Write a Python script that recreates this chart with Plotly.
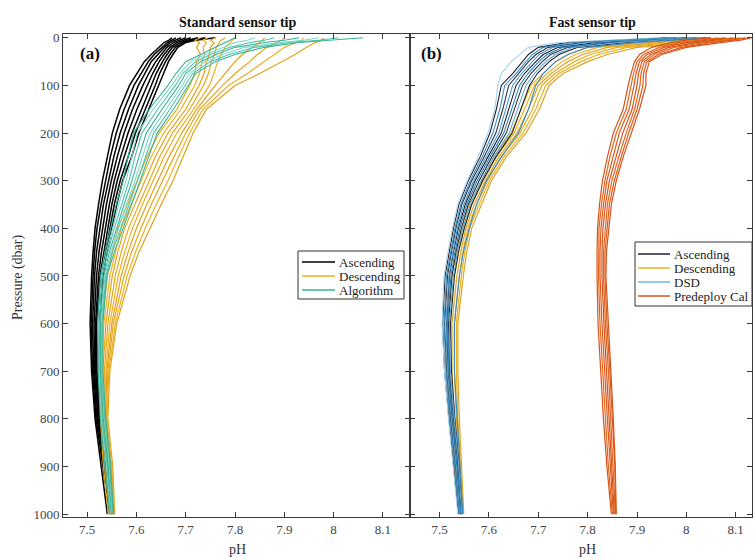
import plotly.graph_objects as go

# Pressure levels (dbar) shared by every profile
pressure = [0, 5, 10, 20, 35, 50, 75, 100, 150, 200, 250, 300, 350, 400, 450,
            500, 600, 700, 800, 900, 1000]

# ---- Standard sensor tip: pH profiles ----
std_ascending = [
    [7.672, 7.666, 7.656, 7.645, 7.630, 7.616, 7.601, 7.586, 7.566, 7.551, 7.541, 7.531, 7.523, 7.516, 7.512, 7.509, 7.506, 7.509, 7.516, 7.529, 7.541],
    [7.680, 7.672, 7.663, 7.652, 7.636, 7.624, 7.609, 7.595, 7.575, 7.559, 7.547, 7.537, 7.528, 7.520, 7.515, 7.512, 7.508, 7.511, 7.518, 7.532, 7.546],
    [7.690, 7.680, 7.668, 7.657, 7.643, 7.630, 7.617, 7.604, 7.584, 7.567, 7.554, 7.543, 7.533, 7.526, 7.519, 7.515, 7.511, 7.513, 7.520, 7.535, 7.548],
    [7.700, 7.688, 7.675, 7.662, 7.650, 7.639, 7.625, 7.613, 7.592, 7.575, 7.561, 7.549, 7.539, 7.531, 7.524, 7.519, 7.514, 7.515, 7.522, 7.537, 7.550],
    [7.710, 7.695, 7.682, 7.668, 7.656, 7.646, 7.633, 7.622, 7.601, 7.583, 7.568, 7.555, 7.545, 7.537, 7.529, 7.523, 7.517, 7.517, 7.524, 7.539, 7.551],
    [7.725, 7.703, 7.689, 7.673, 7.662, 7.653, 7.640, 7.630, 7.610, 7.591, 7.575, 7.561, 7.550, 7.542, 7.533, 7.526, 7.519, 7.519, 7.525, 7.541, 7.553],
    [7.740, 7.712, 7.695, 7.679, 7.668, 7.659, 7.647, 7.638, 7.618, 7.598, 7.583, 7.567, 7.555, 7.546, 7.537, 7.529, 7.521, 7.520, 7.527, 7.543, 7.554],
    [7.760, 7.720, 7.700, 7.684, 7.674, 7.665, 7.655, 7.645, 7.625, 7.605, 7.590, 7.572, 7.560, 7.550, 7.540, 7.532, 7.524, 7.522, 7.528, 7.545, 7.555],
]

std_descending = [
    [7.730, 7.718, 7.728, 7.722, 7.730, 7.722, 7.718, 7.708, 7.682, 7.646, 7.621, 7.601, 7.581, 7.562, 7.551, 7.541, 7.530, 7.526, 7.527, 7.533, 7.543],
    [7.745, 7.735, 7.742, 7.735, 7.738, 7.733, 7.728, 7.718, 7.690, 7.655, 7.630, 7.609, 7.589, 7.569, 7.557, 7.546, 7.534, 7.529, 7.529, 7.536, 7.546],
    [7.760, 7.750, 7.758, 7.750, 7.748, 7.742, 7.737, 7.727, 7.700, 7.664, 7.638, 7.617, 7.596, 7.576, 7.562, 7.551, 7.538, 7.532, 7.531, 7.539, 7.548],
    [7.780, 7.772, 7.768, 7.762, 7.758, 7.752, 7.746, 7.736, 7.708, 7.673, 7.647, 7.626, 7.604, 7.584, 7.569, 7.557, 7.542, 7.535, 7.533, 7.542, 7.550],
    [7.800, 7.795, 7.790, 7.780, 7.772, 7.765, 7.757, 7.748, 7.716, 7.682, 7.656, 7.634, 7.612, 7.592, 7.576, 7.563, 7.546, 7.538, 7.535, 7.544, 7.551],
    [7.860, 7.855, 7.850, 7.835, 7.815, 7.800, 7.780, 7.760, 7.722, 7.692, 7.666, 7.643, 7.621, 7.600, 7.583, 7.569, 7.550, 7.540, 7.537, 7.546, 7.552],
    [7.900, 7.895, 7.885, 7.865, 7.845, 7.830, 7.800, 7.775, 7.728, 7.700, 7.676, 7.653, 7.630, 7.609, 7.590, 7.575, 7.553, 7.542, 7.539, 7.548, 7.553],
    [7.940, 7.935, 7.925, 7.900, 7.880, 7.860, 7.825, 7.787, 7.735, 7.708, 7.685, 7.664, 7.640, 7.618, 7.598, 7.581, 7.557, 7.544, 7.540, 7.550, 7.555],
    [7.980, 7.975, 7.963, 7.945, 7.922, 7.895, 7.850, 7.800, 7.742, 7.715, 7.695, 7.674, 7.650, 7.627, 7.605, 7.587, 7.560, 7.546, 7.542, 7.552, 7.556],
]

std_algorithm = [
    [7.800, 7.790, 7.780, 7.760, 7.728, 7.700, 7.680, 7.664, 7.626, 7.594, 7.583, 7.573, 7.559, 7.547, 7.536, 7.527, 7.521, 7.522, 7.527, 7.536, 7.546],
    [7.840, 7.825, 7.800, 7.775, 7.740, 7.710, 7.688, 7.672, 7.634, 7.602, 7.590, 7.579, 7.564, 7.551, 7.539, 7.529, 7.523, 7.524, 7.529, 7.539, 7.548],
    [7.880, 7.860, 7.830, 7.790, 7.750, 7.720, 7.694, 7.679, 7.643, 7.611, 7.597, 7.585, 7.570, 7.555, 7.542, 7.531, 7.525, 7.526, 7.531, 7.541, 7.549],
    [7.930, 7.900, 7.860, 7.800, 7.762, 7.730, 7.700, 7.686, 7.652, 7.620, 7.605, 7.591, 7.575, 7.560, 7.545, 7.534, 7.527, 7.527, 7.533, 7.543, 7.550],
    [7.970, 7.940, 7.890, 7.820, 7.775, 7.740, 7.707, 7.693, 7.660, 7.628, 7.612, 7.597, 7.580, 7.564, 7.548, 7.536, 7.529, 7.529, 7.535, 7.545, 7.551],
    [8.010, 7.970, 7.910, 7.840, 7.788, 7.750, 7.714, 7.699, 7.668, 7.635, 7.619, 7.602, 7.585, 7.568, 7.551, 7.538, 7.530, 7.530, 7.536, 7.546, 7.552],
    [8.060, 8.000, 7.930, 7.860, 7.800, 7.760, 7.720, 7.705, 7.675, 7.642, 7.625, 7.607, 7.590, 7.573, 7.555, 7.540, 7.532, 7.532, 7.538, 7.548, 7.553],
]

# ---- Fast sensor tip: pH profiles ----
fast_ascending = [
    [7.960, 7.860, 7.760, 7.700, 7.680, 7.668, 7.648, 7.625, 7.615, 7.602, 7.582, 7.558, 7.539, 7.528, 7.519, 7.511, 7.506, 7.510, 7.519, 7.529, 7.538],
    [7.980, 7.890, 7.790, 7.720, 7.695, 7.680, 7.660, 7.640, 7.628, 7.614, 7.590, 7.565, 7.545, 7.533, 7.524, 7.516, 7.510, 7.514, 7.522, 7.532, 7.540],
    [8.000, 7.910, 7.820, 7.740, 7.710, 7.695, 7.672, 7.655, 7.640, 7.625, 7.598, 7.572, 7.552, 7.538, 7.528, 7.520, 7.514, 7.517, 7.525, 7.535, 7.542],
    [8.020, 7.940, 7.850, 7.760, 7.725, 7.708, 7.685, 7.668, 7.652, 7.635, 7.606, 7.580, 7.558, 7.544, 7.533, 7.525, 7.518, 7.520, 7.528, 7.537, 7.544],
    [8.040, 7.960, 7.880, 7.780, 7.742, 7.722, 7.698, 7.682, 7.665, 7.647, 7.614, 7.587, 7.565, 7.550, 7.538, 7.530, 7.522, 7.524, 7.531, 7.540, 7.546],
]

fast_descending = [
    [8.000, 7.950, 7.900, 7.800, 7.760, 7.735, 7.710, 7.685, 7.665, 7.645, 7.610, 7.585, 7.560, 7.545, 7.535, 7.525, 7.515, 7.515, 7.522, 7.530, 7.540],
    [8.030, 7.975, 7.925, 7.820, 7.775, 7.748, 7.718, 7.692, 7.672, 7.651, 7.615, 7.589, 7.565, 7.549, 7.539, 7.530, 7.520, 7.520, 7.526, 7.533, 7.542],
    [8.050, 8.000, 7.950, 7.840, 7.790, 7.760, 7.726, 7.700, 7.680, 7.657, 7.620, 7.593, 7.570, 7.553, 7.543, 7.535, 7.525, 7.525, 7.530, 7.537, 7.544],
    [8.080, 8.030, 7.970, 7.860, 7.805, 7.773, 7.734, 7.707, 7.688, 7.663, 7.625, 7.597, 7.575, 7.557, 7.547, 7.540, 7.530, 7.530, 7.534, 7.540, 7.546],
    [8.100, 8.055, 7.995, 7.880, 7.822, 7.786, 7.742, 7.715, 7.695, 7.669, 7.630, 7.601, 7.580, 7.561, 7.551, 7.544, 7.534, 7.534, 7.537, 7.543, 7.548],
    [8.120, 8.080, 8.020, 7.900, 7.840, 7.800, 7.750, 7.722, 7.702, 7.675, 7.635, 7.605, 7.585, 7.565, 7.555, 7.548, 7.537, 7.537, 7.540, 7.545, 7.549],
]

fast_dsd = [
    [7.950, 7.840, 7.740, 7.680, 7.662, 7.645, 7.625, 7.618, 7.612, 7.598, 7.578, 7.556, 7.537, 7.526, 7.517, 7.509, 7.505, 7.510, 7.518, 7.528, 7.537],
    [7.970, 7.870, 7.770, 7.710, 7.688, 7.675, 7.655, 7.632, 7.622, 7.608, 7.586, 7.562, 7.543, 7.531, 7.522, 7.514, 7.509, 7.513, 7.521, 7.531, 7.539],
    [7.990, 7.900, 7.800, 7.730, 7.702, 7.688, 7.666, 7.648, 7.634, 7.620, 7.594, 7.569, 7.549, 7.536, 7.527, 7.519, 7.513, 7.516, 7.524, 7.534, 7.541],
    [8.010, 7.925, 7.835, 7.750, 7.718, 7.701, 7.679, 7.662, 7.646, 7.630, 7.602, 7.576, 7.555, 7.541, 7.531, 7.523, 7.516, 7.519, 7.527, 7.536, 7.543],
    [8.030, 7.950, 7.865, 7.770, 7.735, 7.715, 7.692, 7.675, 7.658, 7.641, 7.610, 7.584, 7.562, 7.547, 7.536, 7.528, 7.520, 7.522, 7.530, 7.539, 7.545],
    [8.050, 7.980, 7.900, 7.800, 7.760, 7.735, 7.710, 7.695, 7.680, 7.660, 7.625, 7.595, 7.575, 7.560, 7.548, 7.540, 7.530, 7.530, 7.536, 7.542, 7.547],
]

fast_predeploy = [
    [8.050, 8.000, 7.970, 7.930, 7.905, 7.895, 7.888, 7.882, 7.872, 7.852, 7.840, 7.830, 7.824, 7.820, 7.819, 7.819, 7.821, 7.826, 7.832, 7.839, 7.848],
    [8.065, 8.020, 7.985, 7.945, 7.913, 7.900, 7.893, 7.888, 7.878, 7.858, 7.845, 7.835, 7.828, 7.823, 7.822, 7.822, 7.825, 7.830, 7.836, 7.842, 7.850],
    [8.080, 8.040, 8.000, 7.955, 7.920, 7.905, 7.898, 7.894, 7.884, 7.864, 7.851, 7.839, 7.832, 7.827, 7.825, 7.825, 7.829, 7.834, 7.840, 7.846, 7.852],
    [8.095, 8.060, 8.020, 7.965, 7.928, 7.910, 7.903, 7.900, 7.890, 7.871, 7.857, 7.844, 7.836, 7.831, 7.829, 7.829, 7.833, 7.838, 7.844, 7.849, 7.854],
    [8.110, 8.080, 8.035, 7.975, 7.935, 7.915, 7.908, 7.906, 7.895, 7.878, 7.863, 7.849, 7.840, 7.836, 7.832, 7.832, 7.836, 7.842, 7.847, 7.852, 7.856],
    [8.120, 8.095, 8.050, 7.990, 7.943, 7.920, 7.913, 7.912, 7.900, 7.883, 7.868, 7.854, 7.844, 7.840, 7.835, 7.835, 7.839, 7.845, 7.850, 7.855, 7.857],
    [8.130, 8.110, 8.070, 8.000, 7.950, 7.925, 7.918, 7.918, 7.905, 7.888, 7.872, 7.858, 7.848, 7.843, 7.838, 7.837, 7.842, 7.848, 7.852, 7.856, 7.858],
]

pressure_ticks = [0, 100, 200, 300, 400, 500, 600, 700, 800, 900, 1000]
ph_ticks = [7.5, 7.6, 7.7, 7.8, 7.9, 8.0, 8.1]
ph_tick_text = ["7.5", "7.6", "7.7", "7.8", "7.9", "8", "8.1"]

# Legend entries for each panel
legend_std_names = ["Ascending", "Descending", "Algorithm"]
legend_std_colors = ["#000000", "#EDB120", "#36B39A"]
legend_fast_names = ["Ascending", "Descending", "DSD", "Predeploy Cal"]
legend_fast_colors = ["#1C2230", "#EDB120", "#6FB8E2", "#D95319"]

FONT = "Liberation Serif"
AXIS_COLOR = "#3a3a3a"

# Figure geometry (pixels)
W, H = 753, 559
M_L, M_R, M_T, M_B = 63, 1, 34, 42
PW, PH = W - M_L - M_R, H - M_T - M_B


def px(x):
    return (x - M_L) / PW


def py(y):
    return (H - M_B - y) / PH


fig = go.Figure()


def add_group(profiles, name, colors, xaxis, yaxis, width=1.1):
    for i, ph in enumerate(profiles):
        fig.add_trace(go.Scatter(
            x=ph, y=pressure, mode="lines", name=name,
            line=dict(color=colors[i % len(colors)], width=width),
            showlegend=False, xaxis=xaxis, yaxis=yaxis, hoverinfo="skip",
        ))


# Standard sensor tip panel
add_group(std_ascending, "Ascending", ["#000000"], "x", "y", 1.5)
add_group(std_descending, "Descending", ["#E8A612", "#EDB120", "#E3A11A"], "x", "y", 1.2)
add_group(std_algorithm, "Algorithm", ["#36B39A", "#7FD5CB", "#4FC2AE"], "x", "y", 1.1)

# Fast sensor tip panel
add_group(fast_descending, "Descending", ["#E5AF1E", "#EDB120", "#D9A52C"], "x2", "y2", 1.2)
add_group(fast_ascending, "Ascending", ["#1C2230", "#2B3340"], "x2", "y2", 1.1)
add_group(fast_dsd, "DSD", ["#A9D3EC", "#3E8EC4", "#4D9ACB", "#2F80B8", "#5CA6D4", "#3A8AC0"], "x2", "y2", 1.1)
add_group(fast_predeploy, "Predeploy Cal", ["#D95319", "#E2661E", "#DB5A1A"], "x2", "y2", 1.2)

split = 347 / PW

axis_common = dict(
    showline=True, linecolor=AXIS_COLOR, linewidth=1, mirror="ticks",
    ticks="inside", ticklen=5, tickcolor=AXIS_COLOR, tickwidth=1,
    showgrid=False, zeroline=False,
    tickfont=dict(family=FONT, size=13, color="#444444"),
)

fig.update_layout(
    width=W, height=H,
    margin=dict(l=M_L, r=M_R, t=M_T, b=M_B),
    plot_bgcolor="white", paper_bgcolor="white",
    font=dict(family=FONT, size=13, color="#222222"),
    xaxis=dict(domain=[0, split], range=[7.451, 8.155], tickvals=ph_ticks,
               ticktext=ph_tick_text, anchor="y", **axis_common),
    xaxis2=dict(domain=[split, 1], range=[7.44, 8.133], tickvals=ph_ticks,
                ticktext=ph_tick_text, anchor="y2", **axis_common),
    yaxis=dict(range=[1006, -8], tickvals=pressure_ticks, anchor="x",
               **axis_common),
    yaxis2=dict(range=[1006, -8], tickvals=pressure_ticks, anchor="x2",
                matches="y", showticklabels=False, **axis_common),
    showlegend=False,
)


def draw_legend(names, colors, left, right, top, bottom, row0, row_step, line_x0, line_x1):
    fig.add_shape(type="rect", xref="paper", yref="paper",
                  x0=px(left), x1=px(right), y0=py(bottom), y1=py(top),
                  line=dict(color="#333333", width=1), fillcolor="white", layer="above")
    for i, (name, color) in enumerate(zip(names, colors)):
        yy = row0 + i * row_step
        fig.add_shape(type="line", xref="paper", yref="paper",
                      x0=px(line_x0), x1=px(line_x1), y0=py(yy), y1=py(yy),
                      line=dict(color=color, width=1.5), layer="above")
        fig.add_annotation(text=name, xref="paper", yref="paper",
                           x=px(line_x1 + 2), y=py(yy), showarrow=False,
                           xanchor="left", yanchor="middle",
                           font=dict(family=FONT, size=13, color="#222222"))


draw_legend(legend_std_names, legend_std_colors, 298, 404, 251, 299, 262, 14, 302, 335)
draw_legend(legend_fast_names, legend_fast_colors, 635, 752, 242, 306, 254, 14, 638, 670)

annotations = [
    dict(text="<b>Standard sensor tip</b>", x=237, y=23),
    dict(text="<b>Fast sensor tip</b>", x=592, y=23),
]
for a in annotations:
    fig.add_annotation(text=a["text"], xref="paper", yref="paper",
                       x=px(a["x"]), y=py(a["y"]),
                       showarrow=False, xanchor="center", yanchor="middle",
                       font=dict(family=FONT, size=14, color="#111111"))

# Panel letters
for label, lx in [("(a)", 90), ("(b)", 431)]:
    fig.add_annotation(text="<b>" + label + "</b>", xref="paper", yref="paper",
                       x=px(lx), y=py(53),
                       showarrow=False, xanchor="center", yanchor="middle",
                       font=dict(family=FONT, size=17, color="#111111"))

# Axis titles
fig.add_annotation(text="Pressure (dbar)", xref="paper", yref="paper",
                   x=px(18), y=py(278), textangle=-90,
                   showarrow=False, xanchor="center", yanchor="middle",
                   font=dict(family=FONT, size=14, color="#333333"))
for tx in [237, 587]:
    fig.add_annotation(text="pH", xref="paper", yref="paper",
                       x=px(tx), y=py(549),
                       showarrow=False, xanchor="center", yanchor="middle",
                       font=dict(family=FONT, size=14, color="#333333"))

fig.write_html("out.html")
